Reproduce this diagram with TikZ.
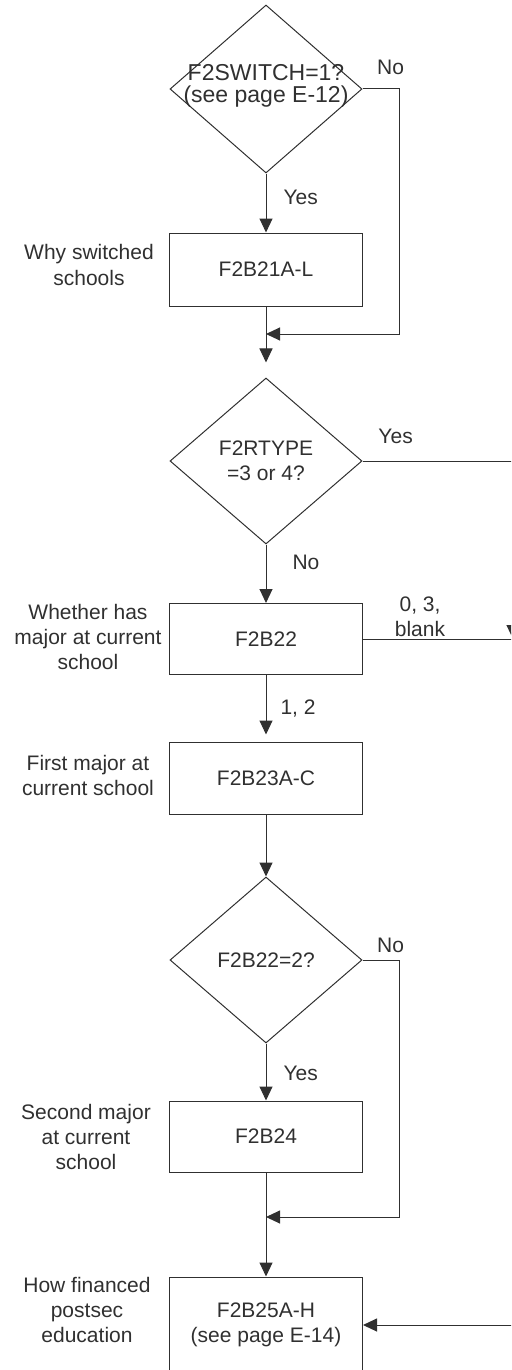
\documentclass[tikz,border=0pt]{standalone}
\usepackage{fontspec}
\setmainfont{Liberation Sans}
\usepackage{xcolor}
\usepackage{tikz}
\usetikzlibrary{positioning,shapes.geometric,arrows.meta}
\definecolor{ink}{HTML}{303030}

\begin{document}
\begin{tikzpicture}[x = 0.5pt, y = -0.5pt, line width = 0.5pt,
    every node/.style = {font = \fontsize{10.5pt}{12.6pt}\selectfont, text = ink},
    decision/.style = {draw = ink, diamond, inner sep = 0pt, minimum width = 96pt, minimum height = 83pt},
    process/.style = {draw = ink, rectangle, inner sep = 0pt, minimum width = 96.5pt, minimum height = 36pt, align = center},
    note/.style = {align = center, inner sep = 0pt},
    lbl/.style = {inner sep = 0pt},
    > = {Triangle[width = 6.5pt, length = 7pt]}]
  \useasboundingbox (0, 0) rectangle (511, 1370);
  \clip (0, 0) rectangle (511, 1370);

  \node[decision, minimum height = 84pt] (switch) at (266, 89) {};
  \node[lbl, align = center, font = \fontsize{11.5pt}{11pt}\selectfont] (switchq) at (266, 86) {F2SWITCH=1?\\(see page E-12)};

  \node[process, minimum height = 36.5pt] (b21) at (266, 269.5) {F2B21A-L};
  \coordinate (J1) at (266, 334);

  \node[decision] (rtype) at (266, 461) {};
  \node[lbl, align = center] (rtypeq) at (266, 461) {F2RTYPE\\=3 or 4?};

  \node[process, minimum height = 35.5pt] (b22) at (266, 639) {F2B22};
  \coordinate (J2) at (513, 639);

  \node[process] (b23) at (266, 778) {F2B23A-C};

  \node[decision] (major2) at (266, 960) {};
  \node[lbl] (major2q) at (266, 960) {F2B22=2?};

  \node[process, minimum height = 35.5pt] (b24) at (266, 1136.5) {F2B24};
  \coordinate (J3) at (266, 1217);

  \node[process, minimum height = 48pt] (b25) at (266, 1325) {F2B25A-H\\(see page E-14)};

  % what each item asks
  \node[note] (why) at (89, 265) {Why switched\\schools};
  \node[note] (whether) at (88, 637) {Whether has\\major at current\\school};
  \node[note] (first) at (88, 775.5) {First major at\\current school};
  \node[note] (second) at (86, 1137) {Second major\\at current\\school};
  \node[note] (how) at (87, 1310) {How financed\\postsec\\education};

  \draw[ink, ->] (switch) -- node[lbl, pos = 0.4, right = 8.5pt] (yes1) {Yes} (b21);
  \draw[ink, ->] (switch.east) -- node[lbl, pos = 0.76, above = 6.75pt] (no1) {No} ++(37, 0) |- (J1);
  \draw[ink] (b21) -- (J1);
  \draw[ink, ->, shorten > = 7.5pt] (J1) -- (rtype);

  \draw[ink, ->] (rtype.east) -| node[lbl, pos = 0.11, above = 8.25pt] (yes2) {Yes} (J2);
  \draw[ink, ->] (rtype) -- node[lbl, pos = 0.31, right = 13pt] (no2) {No} (b22);
  \draw[ink, ->] (b22.east) -- node[lbl, pos = 0.38, above = 1pt, align = center] (blank) {0, 3,\\blank} (J2) |- (b25.east);
  \draw[ink, ->, shorten > = 3.5pt] (b22) -- node[lbl, pos = 0.5, right = 7pt] (one2) {1, 2} (b23);

  \draw[ink, ->] (b23) -- (major2);
  \draw[ink, ->] (major2) -- node[lbl, pos = 0.52, right = 8.5pt] (yes3) {Yes} (b24);
  \draw[ink, ->] (major2.east) -- node[lbl, pos = 0.76, above = 3.25pt] (no3) {No} ++(37, 0) |- (J3);
  \draw[ink] (b24) -- (J3);
  \draw[ink, ->] (J3) -- (b25);
\end{tikzpicture}
\end{document}
